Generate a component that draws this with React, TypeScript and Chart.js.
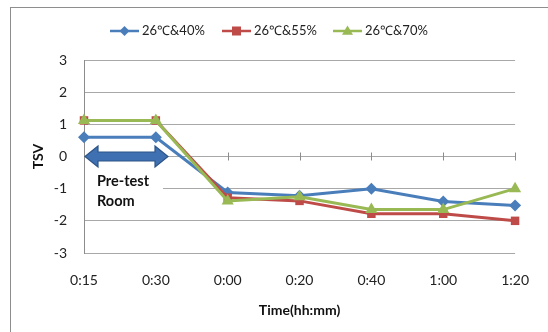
import React, { useEffect, useRef } from "react";
import { Chart, registerables } from "chart.js";

Chart.register(...registerables);

const categories = ["0:15", "0:30", "0:00", "0:20", "0:40", "1:00", "1:20"];
const series40 = [0.6, 0.6, -1.12, -1.22, -1.0, -1.4, -1.52];
const series55 = [1.12, 1.12, -1.28, -1.38, -1.78, -1.78, -2.0];
const series70 = [1.12, 1.12, -1.38, -1.25, -1.65, -1.65, -1.0];
const seriesNames = ["26\u2103&40%", "26\u2103&55%", "26\u2103&70%"];
const colors = ["#4A7EBB", "#BE4B48", "#98B954"];
const markers = ["rectRot", "rect", "triangle"];
const yTicks = [-3, -2, -1, 0, 1, 2, 3];

const FONT = "Lato, 'Open Sans', sans-serif";

function drawMarker(ctx: CanvasRenderingContext2D, style: string, x: number, y: number, r: number, color: string) {
  ctx.save();
  ctx.fillStyle = color;
  ctx.beginPath();
  if (style === "rectRot") {
    ctx.moveTo(x, y - r);
    ctx.lineTo(x + r, y);
    ctx.lineTo(x, y + r);
    ctx.lineTo(x - r, y);
  } else if (style === "rect") {
    ctx.rect(x - r * 0.9, y - r * 0.9, r * 1.8, r * 1.8);
  } else {
    ctx.moveTo(x, y - r);
    ctx.lineTo(x + r, y + r * 0.7);
    ctx.lineTo(x - r, y + r * 0.7);
  }
  ctx.closePath();
  ctx.fill();
  ctx.restore();
}

const decorPlugin = {
  id: "decor",
  beforeDatasetsDraw(chart: any) {
    const ctx = chart.ctx as CanvasRenderingContext2D;
    const xs = chart.scales.x;
    const ys = chart.scales.y;
    const y0 = ys.getPixelForValue(0);
    const left = chart.chartArea.left;
    ctx.save();
    ctx.strokeStyle = "#8C8C8C";
    ctx.lineWidth = 1;
    for (let i = 0; i < categories.length; i++) {
      const x = Math.round(xs.getPixelForValue(i)) + 0.5;
      ctx.beginPath();
      ctx.moveTo(x, y0 - 4);
      ctx.lineTo(x, y0 + 4);
      ctx.stroke();
    }
    const yM1 = ys.getPixelForValue(-1);
    ctx.fillStyle = "#fff";
    ctx.fillRect(left + 1, y0 + 8, 78, yM1 - y0 + 22);
    const x1 = left + 1;
    const x2 = left + 84;
    const sh = 4.5;
    const hh = 10.5;
    const hl = 13;
    ctx.beginPath();
    ctx.moveTo(x1, y0);
    ctx.lineTo(x1 + hl, y0 - hh);
    ctx.lineTo(x1 + hl, y0 - sh);
    ctx.lineTo(x2 - hl, y0 - sh);
    ctx.lineTo(x2 - hl, y0 - hh);
    ctx.lineTo(x2, y0);
    ctx.lineTo(x2 - hl, y0 + hh);
    ctx.lineTo(x2 - hl, y0 + sh);
    ctx.lineTo(x1 + hl, y0 + sh);
    ctx.lineTo(x1 + hl, y0 + hh);
    ctx.closePath();
    ctx.fillStyle = "#3F70B2";
    ctx.fill();
    ctx.strokeStyle = "#2D5487";
    ctx.lineWidth = 1.2;
    ctx.stroke();
    ctx.fillStyle = "#111";
    ctx.font = "bold 14.5px " + FONT;
    ctx.textAlign = "left";
    ctx.textBaseline = "middle";
    ctx.fillText("Pre-test", left + 13, y0 + 25);
    ctx.fillText("Room", left + 13, y0 + 45);
    ctx.restore();
  },
  afterDraw(chart: any) {
    const ctx = chart.ctx as CanvasRenderingContext2D;
    const area = chart.chartArea;
    ctx.save();
    ctx.strokeStyle = "#8E8E8E";
    ctx.lineWidth = 1;
    ctx.strokeRect(10.5, 7.5, 700, 500);
    ctx.font = "13px " + FONT;
    ctx.textBaseline = "middle";
    ctx.textAlign = "left";
    const starts = [110, 222, 333];
    const ly = 31;
    for (let i = 0; i < 3; i++) {
      const sx = starts[i];
      ctx.strokeStyle = colors[i];
      ctx.lineWidth = 2.5;
      ctx.beginPath();
      ctx.moveTo(sx, ly);
      ctx.lineTo(sx + 29, ly);
      ctx.stroke();
      drawMarker(ctx, markers[i], sx + 14.5, ly, i === 2 ? 5.5 : 5, colors[i]);
      ctx.fillStyle = "#222";
      ctx.fillText(seriesNames[i], sx + 32, ly);
    }
    ctx.fillStyle = "#111";
    ctx.font = "bold 14px " + FONT;
    ctx.textAlign = "center";
    ctx.fillText("Time(hh:mm)", (area.left + area.right) / 2, 310);
    ctx.save();
    ctx.translate(38, (area.top + area.bottom) / 2);
    ctx.rotate(-Math.PI / 2);
    ctx.fillText("TSV", 0, 0);
    ctx.restore();
    ctx.restore();
  },
};

export default function App() {
  const ref = useRef<HTMLCanvasElement | null>(null);
  useEffect(() => {
    if (!ref.current) return;
    const mk = (i: number, data: number[]) => ({
      label: seriesNames[i],
      data,
      borderColor: colors[i],
      backgroundColor: colors[i],
      borderWidth: 3,
      pointStyle: markers[i] as any,
      pointRadius: i === 2 ? 7 : 6,
      pointBorderWidth: 0,
      tension: 0,
      order: 3 - i,
    });
    const chart = new Chart(ref.current, {
      type: "line",
      data: {
        labels: categories,
        datasets: [mk(0, series40), mk(1, series55), mk(2, series70)],
      },
      options: {
        animation: false,
        responsive: false,
        devicePixelRatio: 1,
        layout: { padding: { top: 60, right: 25, left: 0, bottom: 0 } },
        plugins: { legend: { display: false }, tooltip: { enabled: false } },
        scales: {
          x: {
            type: "category",
            offset: false,
            grid: { display: false, drawTicks: false },
            border: { display: false },
            ticks: {
              padding: 19,
              color: "#222",
              font: { family: FONT, size: 14 },
              maxRotation: 0,
              autoSkip: false,
            },
            afterFit: (s: any) => {
              s.height = 79;
            },
          },
          y: {
            min: -3,
            max: 3,
            afterBuildTicks: (s: any) => {
              s.ticks = yTicks.map((v) => ({ value: v }));
            },
            grid: {
              color: "#A8A8A8",
              drawTicks: false,
              lineWidth: 1,
            },
            border: { display: true, color: "#8C8C8C" },
            ticks: {
              padding: 17,
              color: "#222",
              font: { family: FONT, size: 14 },
            },
            afterFit: (s: any) => {
              s.width = 84;
            },
          },
        },
      },
      plugins: [decorPlugin],
    });
    return () => chart.destroy();
  }, []);
  return (
    <div style={{ position: "fixed", left: 0, top: 0, width: 548, height: 332, background: "#fff" }}>
      <canvas ref={ref} width={548} height={332} style={{ width: 548, height: 332, display: "block" }} />
    </div>
  );
}
